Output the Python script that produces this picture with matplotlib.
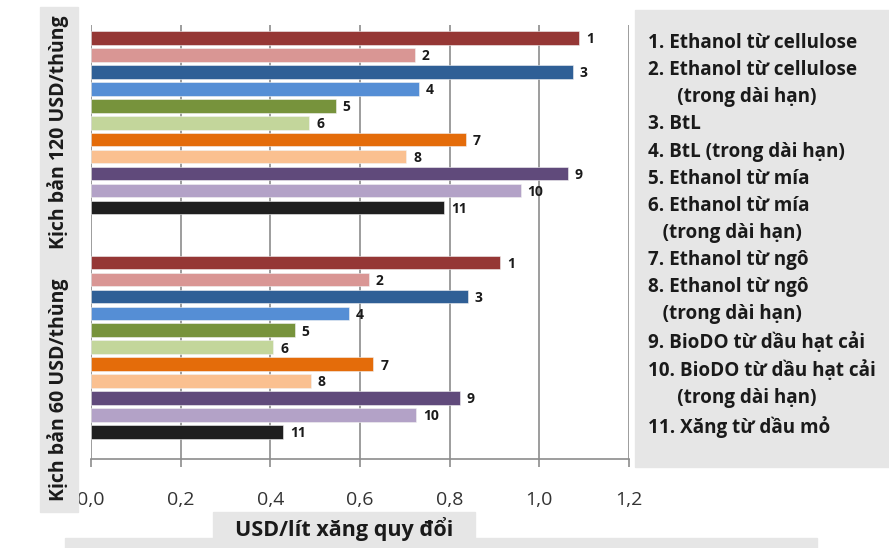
import matplotlib.pyplot as plt
import matplotlib.patches as mpatches
import numpy as np

# values (USD / litre gasoline equivalent)
bar_ids = ["1", "2", "3", "4", "5", "6", "7", "8", "9", "10", "11"]
cost_120 = [1.089, 0.722, 1.075, 0.732, 0.546, 0.487, 0.836, 0.703, 1.063, 0.958, 0.787]
cost_60 = [0.912, 0.620, 0.841, 0.576, 0.454, 0.407, 0.630, 0.490, 0.822, 0.726, 0.429]
bar_colors = ["#953735", "#d99694", "#2f5f96", "#558ed5", "#77933c", "#c3d69b",
              "#e46c0a", "#fac090", "#604a7b", "#b3a2c7", "#1f1f1f"]
group_labels = ["Kịch bản 120 USD/thùng", "Kịch bản 60 USD/thùng"]
x_ticks = [0.0, 0.2, 0.4, 0.6, 0.8, 1.0, 1.2]
x_label = "USD/lít xăng quy đổi"
legend_lines = [
    "1. Ethanol từ cellulose",
    "2. Ethanol từ cellulose",
    "      (trong dài hạn)",
    "3. BtL",
    "4. BtL (trong dài hạn)",
    "5. Ethanol từ mía",
    "6. Ethanol từ mía",
    "   (trong dài hạn)",
    "7. Ethanol từ ngô",
    "8. Ethanol từ ngô",
    "   (trong dài hạn)",
    "9. BioDO từ dầu hạt cải",
    "10. BioDO từ dầu hạt cải",
    "      (trong dài hạn)",
    "11. Xăng từ dầu mỏ",
]

plt.rcParams['font.family'] = ['Open Sans', 'DejaVu Sans']
GRAY = "#e6e6e6"
TXT = "#1a1a1a"

fig = plt.figure(figsize=(8.89, 5.48), dpi=100)
W, H = 889, 548

def fx(px):
    return px / W

def fy(py):
    return 1 - py / H

# gray backgrounds (y label band, legend, x label box, bottom strip)
for (x0, y0, x1, y1) in [(40, 7, 78, 512), (635, 10, 889, 467),
                         (213, 512, 475, 545), (65, 538, 817, 548)]:
    fig.patches.append(mpatches.Rectangle((fx(x0), fy(y1)), fx(x1 - x0), (y1 - y0) / H,
                                          transform=fig.transFigure, color=GRAY, zorder=0))

ax = fig.add_axes([fx(91), fy(459), fx(629 - 91), (459 - 25) / H])
ax.set_facecolor("white")

n = len(bar_ids)
pos_120 = np.arange(n)
pos_60 = np.arange(n) + n + 2.25

ax.barh(pos_120, cost_120, height=0.8, color=bar_colors, edgecolor="#f2f2f2", linewidth=0.4, zorder=3)
ax.barh(pos_60, cost_60, height=0.8, color=bar_colors, edgecolor="#f2f2f2", linewidth=0.4, zorder=3)

for pos, vals in [(pos_120, cost_120), (pos_60, cost_60)]:
    for p, v, lab in zip(pos, vals, bar_ids):
        ax.annotate(lab, (v, p), xytext=(5, -1), textcoords="offset points",
                    ha="left", va="center", fontsize=10, fontweight="bold", color=TXT)

ax.set_xlim(0, 1.2)
ax.set_ylim(pos_60[-1] + 1.6, -0.77)
ax.set_yticks([])
ax.set_xticks(x_ticks)
ax.set_xticklabels([f"{t:.1f}".replace(".", ",") for t in x_ticks], fontsize=14, color="#333333")
ax.tick_params(axis="x", direction="out", length=6, color="#8c8c8c", width=1.2, pad=17)
ax.grid(axis="x", color="#8c8c8c", linewidth=1.2, zorder=0)
for s in ["top", "right", "left"]:
    ax.spines[s].set_visible(False)
ax.spines["bottom"].set_color("#8c8c8c")
ax.spines["bottom"].set_linewidth(1.2)

# group labels on the left band (they fill the band, not centred on the bars)
for yc, lab in zip([132, 390], group_labels):
    fig.text(fx(58), fy(yc), lab, rotation=90, ha="center", va="center",
             fontsize=14, fontweight="bold", color=TXT)

fig.text(fx(344), fy(529), x_label, ha="center", va="center", fontsize=15.5,
         fontweight="bold", color=TXT)

fig.text(fx(648), fy(33), "\n".join(legend_lines), ha="left", va="top",
         fontsize=13.6, fontweight="bold", color=TXT, linespacing=1.475)

fig.savefig("out.png", dpi=100)
